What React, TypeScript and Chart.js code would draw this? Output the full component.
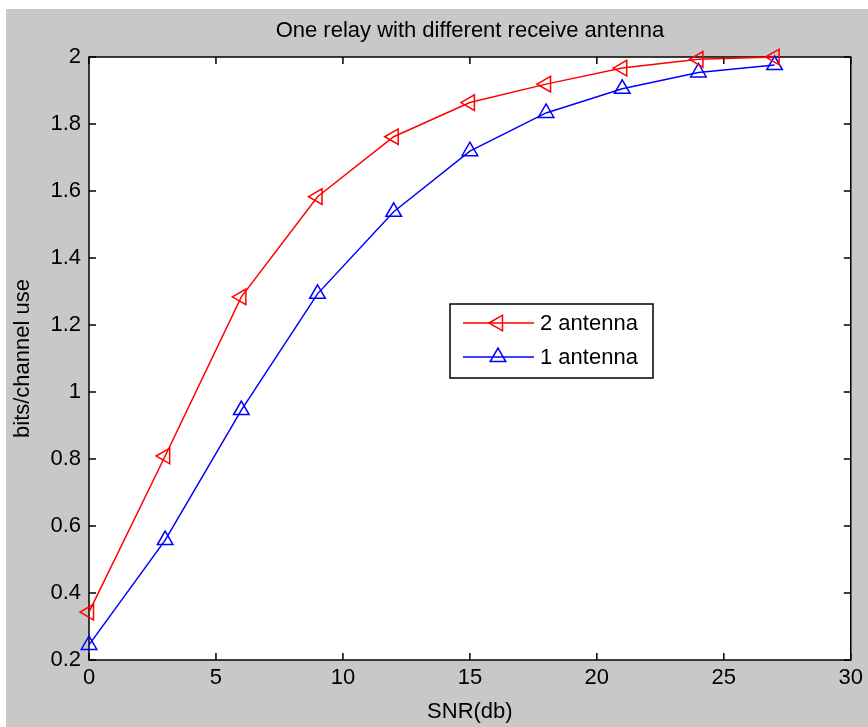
import React, { useEffect, useRef } from 'react';
import { Chart, registerables } from 'chart.js';

Chart.register(...registerables);

const snr = [0, 3, 6, 9, 12, 15, 18, 21, 24, 27];
const twoAntenna = [0.343, 0.809, 1.284, 1.583, 1.762, 1.864, 1.919, 1.967, 1.993, 2.0];
const oneAntenna = [0.245, 0.558, 0.946, 1.293, 1.538, 1.719, 1.833, 1.905, 1.954, 1.976];
const xTicks = [0, 5, 10, 15, 20, 25, 30];
const xTickLabels = ['0', '5', '10', '15', '20', '25', '30'];
const yTicks = [0.2, 0.4, 0.6, 0.8, 1.0, 1.2, 1.4, 1.6, 1.8, 2.0];
const yTickLabels = ['0.2', '0.4', '0.6', '0.8', '1', '1.2', '1.4', '1.6', '1.8', '2'];
const seriesLabels = ['2 antenna', '1 antenna'];
const seriesColors = ['#ff0000', '#0000ff'];
const seriesRotation = [-90, 0];
const titleText = 'One relay with different receive antenna';
const xTitle = 'SNR(db)';
const yTitle = 'bits/channel use';

const FONT = "'Liberation Sans', Arial, sans-serif";
const FS = 22;

function drawTri(ctx: CanvasRenderingContext2D, x: number, y: number, r: number, rotDeg: number) {
  let rad = (rotDeg * Math.PI) / 180;
  ctx.beginPath();
  ctx.moveTo(x + Math.sin(rad) * r, y - Math.cos(rad) * r);
  rad += (2 * Math.PI) / 3;
  ctx.lineTo(x + Math.sin(rad) * r, y - Math.cos(rad) * r);
  rad += (2 * Math.PI) / 3;
  ctx.lineTo(x + Math.sin(rad) * r, y - Math.cos(rad) * r);
  ctx.closePath();
  ctx.stroke();
}

const bgPlugin = {
  id: 'bgPlugin',
  beforeDraw(chart: any) {
    const { ctx, width, height, chartArea } = chart;
    ctx.save();
    ctx.fillStyle = '#ffffff';
    ctx.fillRect(0, 0, width, height);
    ctx.fillStyle = '#c8c8c8';
    ctx.fillRect(6, 9, width - 6, height - 9);
    ctx.fillStyle = '#ffffff';
    ctx.fillRect(chartArea.left, chartArea.top, chartArea.right - chartArea.left, chartArea.bottom - chartArea.top);
    ctx.restore();
  },
};

const boxPlugin = {
  id: 'boxPlugin',
  beforeDatasetsDraw(chart: any) {
    const { ctx, chartArea, scales } = chart;
    const { left, right, top, bottom } = chartArea;
    const tl = 7;
    ctx.save();
    ctx.strokeStyle = '#000000';
    ctx.lineWidth = 1.5;
    ctx.strokeRect(left, top, right - left, bottom - top);
    ctx.beginPath();
    xTicks.forEach((v) => {
      const px = scales.x.getPixelForValue(v);
      ctx.moveTo(px, bottom);
      ctx.lineTo(px, bottom - tl);
      ctx.moveTo(px, top);
      ctx.lineTo(px, top + tl);
    });
    yTicks.forEach((v) => {
      const py = scales.y.getPixelForValue(v);
      ctx.moveTo(left, py);
      ctx.lineTo(left + tl, py);
      ctx.moveTo(right, py);
      ctx.lineTo(right - tl, py);
    });
    ctx.stroke();
    ctx.restore();
  },
};

const legendPlugin = {
  id: 'legendPlugin',
  afterDraw(chart: any) {
    const { ctx } = chart;
    const bx = 450, by = 304, bw = 203, bh = 74;
    ctx.save();
    ctx.fillStyle = '#ffffff';
    ctx.fillRect(bx, by, bw, bh);
    ctx.strokeStyle = '#000000';
    ctx.lineWidth = 1.5;
    ctx.strokeRect(bx, by, bw, bh);
    const rows = [323, 357];
    seriesLabels.forEach((lab, i) => {
      const y = rows[i];
      ctx.strokeStyle = seriesColors[i];
      ctx.lineWidth = 1.5;
      ctx.beginPath();
      ctx.moveTo(463, y);
      ctx.lineTo(534, y);
      ctx.stroke();
      drawTri(ctx, 498, y, 9, seriesRotation[i]);
      ctx.fillStyle = '#000000';
      ctx.font = `${FS}px ${FONT}`;
      ctx.textAlign = 'left';
      ctx.textBaseline = 'middle';
      ctx.fillText(lab, 540, y + 1);
    });
    ctx.restore();
  },
};

export default function App() {
  const ref = useRef<HTMLCanvasElement | null>(null);
  useEffect(() => {
    document.body.style.margin = '0';
    if (!ref.current) return;
    const datasets = [twoAntenna, oneAntenna].map((vals, i) => ({
      label: seriesLabels[i],
      data: snr.map((x, k) => ({ x, y: vals[k] })),
      borderColor: seriesColors[i],
      backgroundColor: 'rgba(0,0,0,0)',
      borderWidth: 1.5,
      pointStyle: 'triangle',
      pointRotation: seriesRotation[i],
      pointRadius: 9,
      pointBorderWidth: 1.5,
      pointBorderColor: seriesColors[i],
      pointBackgroundColor: 'rgba(0,0,0,0)',
      tension: 0,
      clip: false as any,
    }));
    const chart = new Chart(ref.current, {
      type: 'line',
      data: { datasets },
      options: {
        animation: false,
        responsive: false,
        layout: { padding: { left: 0, right: 14, top: 0, bottom: 0 } },
        plugins: {
          legend: { display: false },
          tooltip: { enabled: false },
          title: {
            display: true,
            fullSize: false,
            text: titleText,
            color: '#000000',
            font: { family: FONT, size: FS, weight: 'normal' },
            padding: { top: 18, bottom: 12.6 },
          },
        },
        scales: {
          x: {
            type: 'linear',
            min: 0,
            max: 30,
            afterBuildTicks: (s: any) => {
              s.ticks = xTicks.map((v) => ({ value: v }));
            },
            afterFit: (s: any) => {
              s.height = 67;
            },
            grid: { display: false, drawTicks: false },
            border: { display: false },
            ticks: {
              color: '#000000',
              font: { family: FONT, size: FS },
              padding: 5,
              maxRotation: 0,
              autoSkip: false,
              callback: (v: any) => {
                const i = xTicks.indexOf(Number(v));
                return i >= 0 ? xTickLabels[i] : '';
              },
            },
            title: {
              display: true,
              text: xTitle,
              color: '#000000',
              font: { family: FONT, size: FS },
              padding: { top: 0, bottom: 2 },
            },
          },
          y: {
            type: 'linear',
            min: 0.2,
            max: 2,
            afterBuildTicks: (s: any) => {
              s.ticks = yTicks.map((v) => ({ value: v }));
            },
            afterFit: (s: any) => {
              s.width = 89;
            },
            grid: { display: false, drawTicks: false },
            border: { display: false },
            ticks: {
              color: '#000000',
              font: { family: FONT, size: FS },
              padding: 8,
              autoSkip: false,
              callback: (v: any) => {
                const i = yTicks.findIndex((t) => Math.abs(t - Number(v)) < 1e-9);
                return i >= 0 ? yTickLabels[i] : '';
              },
            },
            title: {
              display: true,
              text: yTitle,
              color: '#000000',
              font: { family: FONT, size: FS },
              padding: { top: 10, bottom: 0 },
            },
          },
        },
      },
      plugins: [bgPlugin, boxPlugin, legendPlugin],
    });
    return () => chart.destroy();
  }, []);
  return (
    <div style={{ width: 868, height: 727, position: 'relative' }}>
      <canvas ref={ref} width={868} height={727} style={{ display: 'block', width: 868, height: 727 }} />
    </div>
  );
}
